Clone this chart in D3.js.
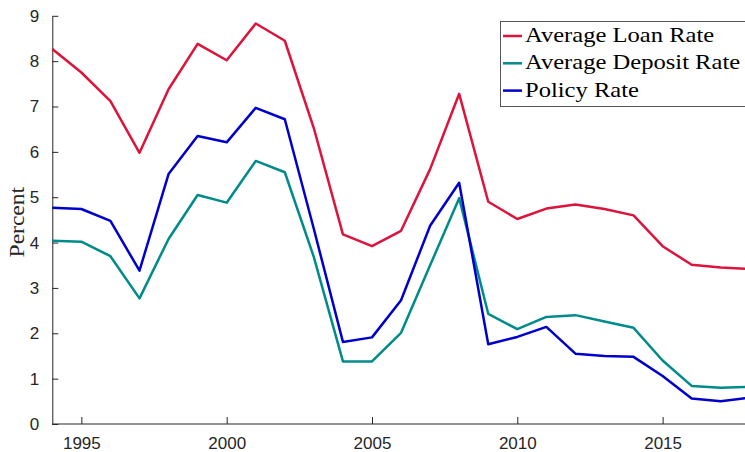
<!DOCTYPE html>
<html>
<head>
<meta charset="utf-8">
<script src="https://cdn.jsdelivr.net/npm/d3@7"></script>
<style>
  html, body { margin: 0; padding: 0; background: #fff; }
  svg { display: block; }
</style>
</head>
<body>
<svg id="chart" width="745" height="452"></svg>
<script>
// Annual interest rates, 1994–2018 (percent)
const years = d3.range(1994, 2019);

const loanRate = [8.27, 7.75, 7.12, 5.98, 7.38, 8.38, 8.02, 8.83, 8.45, 6.52,
                  4.18, 3.92, 4.26, 5.62, 7.28, 4.90, 4.52, 4.75, 4.84, 4.74,
                  4.60, 3.92, 3.51, 3.45, 3.42];

const depositRate = [4.04, 4.02, 3.70, 2.77, 4.08, 5.05, 4.88, 5.80, 5.55, 3.68,
                     1.38, 1.38, 2.01, 3.50, 4.98, 2.43, 2.09, 2.36, 2.40, 2.26,
                     2.12, 1.40, 0.84, 0.80, 0.82];

const policyRate = [4.77, 4.74, 4.48, 3.38, 5.51, 6.35, 6.21, 6.97, 6.72, 4.30,
                    1.81, 1.91, 2.73, 4.37, 5.32, 1.76, 1.92, 2.14, 1.55, 1.50,
                    1.48, 1.06, 0.56, 0.50, 0.58];

const seriesNames = ["Average Loan Rate", "Average Deposit Rate", "Policy Rate"];
const seriesColors = ["#dc143c", "#008b8b", "#0000cd"];
const seriesValues = [loanRate, depositRate, policyRate];

const yTicks = d3.range(0, 10);
const xTicks = [1995, 2000, 2005, 2010, 2015];

const svg = d3.select("#chart");
const axisColor = "#262626";
const serif = "'Liberation Serif', 'Times New Roman', serif";

// stretch serif text horizontally so it reads like a wide book face
function widen(sel, factor) {
  sel.each(function () {
    const w = this.getComputedTextLength();
    d3.select(this)
      .attr("textLength", w * factor)
      .attr("lengthAdjust", "spacingAndGlyphs");
  });
}

const x = d3.scaleLinear().domain([1994, 2018]).range([52.3, 749.8]);
const y = d3.scaleLinear().domain([0, 9]).range([424, 15.8]);

// axes (inward ticks, no box)
const yAxis = svg.append("g")
  .attr("transform", `translate(${x(1994)},0)`)
  .call(d3.axisLeft(y).tickValues(yTicks).tickSizeInner(-6).tickSizeOuter(0).tickPadding(13).tickFormat(d3.format("d")));

const xAxis = svg.append("g")
  .attr("transform", `translate(0,${y(0)})`)
  .call(d3.axisBottom(x).tickValues(xTicks).tickSizeInner(-7).tickSizeOuter(0).tickPadding(13).tickFormat(d3.format("d")));

[yAxis, xAxis].forEach(g => {
  g.select(".domain").attr("stroke", axisColor).attr("stroke-width", 1);
  g.selectAll(".tick line").attr("stroke", axisColor).attr("stroke-width", 1);
  g.selectAll(".tick text")
    .attr("fill", axisColor)
    .style("font-family", "'Liberation Sans', Arial, sans-serif")
    .style("font-size", "17px");
});
// extend the x baseline to the right edge
xAxis.select(".domain").attr("d", `M${x(1994)},0H745`);

// y-axis title
svg.append("text")
  .attr("transform", `translate(24,${y(4.45)}) rotate(-90)`)
  .attr("text-anchor", "middle")
  .style("font-family", serif)
  .style("font-size", "21px")
  .attr("fill", axisColor)
  .text("Percent")
  .call(widen, 1.12);

// lines
const line = d3.line()
  .x((d, i) => x(years[i]))
  .y(d => y(d));

seriesValues.forEach((vals, k) => {
  svg.append("path")
    .datum(vals)
    .attr("fill", "none")
    .attr("stroke", seriesColors[k])
    .attr("stroke-width", 2.5)
    .attr("stroke-linejoin", "round")
    .attr("d", line);
});

// legend
const legend = svg.append("g");
legend.append("rect")
  .attr("x", 500.5).attr("y", 21.5)
  .attr("width", 245).attr("height", 85)
  .attr("fill", "#fff")
  .attr("stroke", "#555")
  .attr("stroke-width", 1);

seriesNames.forEach((name, k) => {
  const cy = 36 + k * 27.3;
  legend.append("line")
    .attr("x1", 503).attr("x2", 522)
    .attr("y1", cy).attr("y2", cy)
    .attr("stroke", seriesColors[k])
    .attr("stroke-width", 2.5);
  legend.append("text")
    .attr("x", 525).attr("y", cy + 6)
    .style("font-family", serif)
    .style("font-size", "21px")
    .attr("fill", "#000")
    .text(name)
    .call(widen, 1.17);
});
</script>
</body>
</html>
